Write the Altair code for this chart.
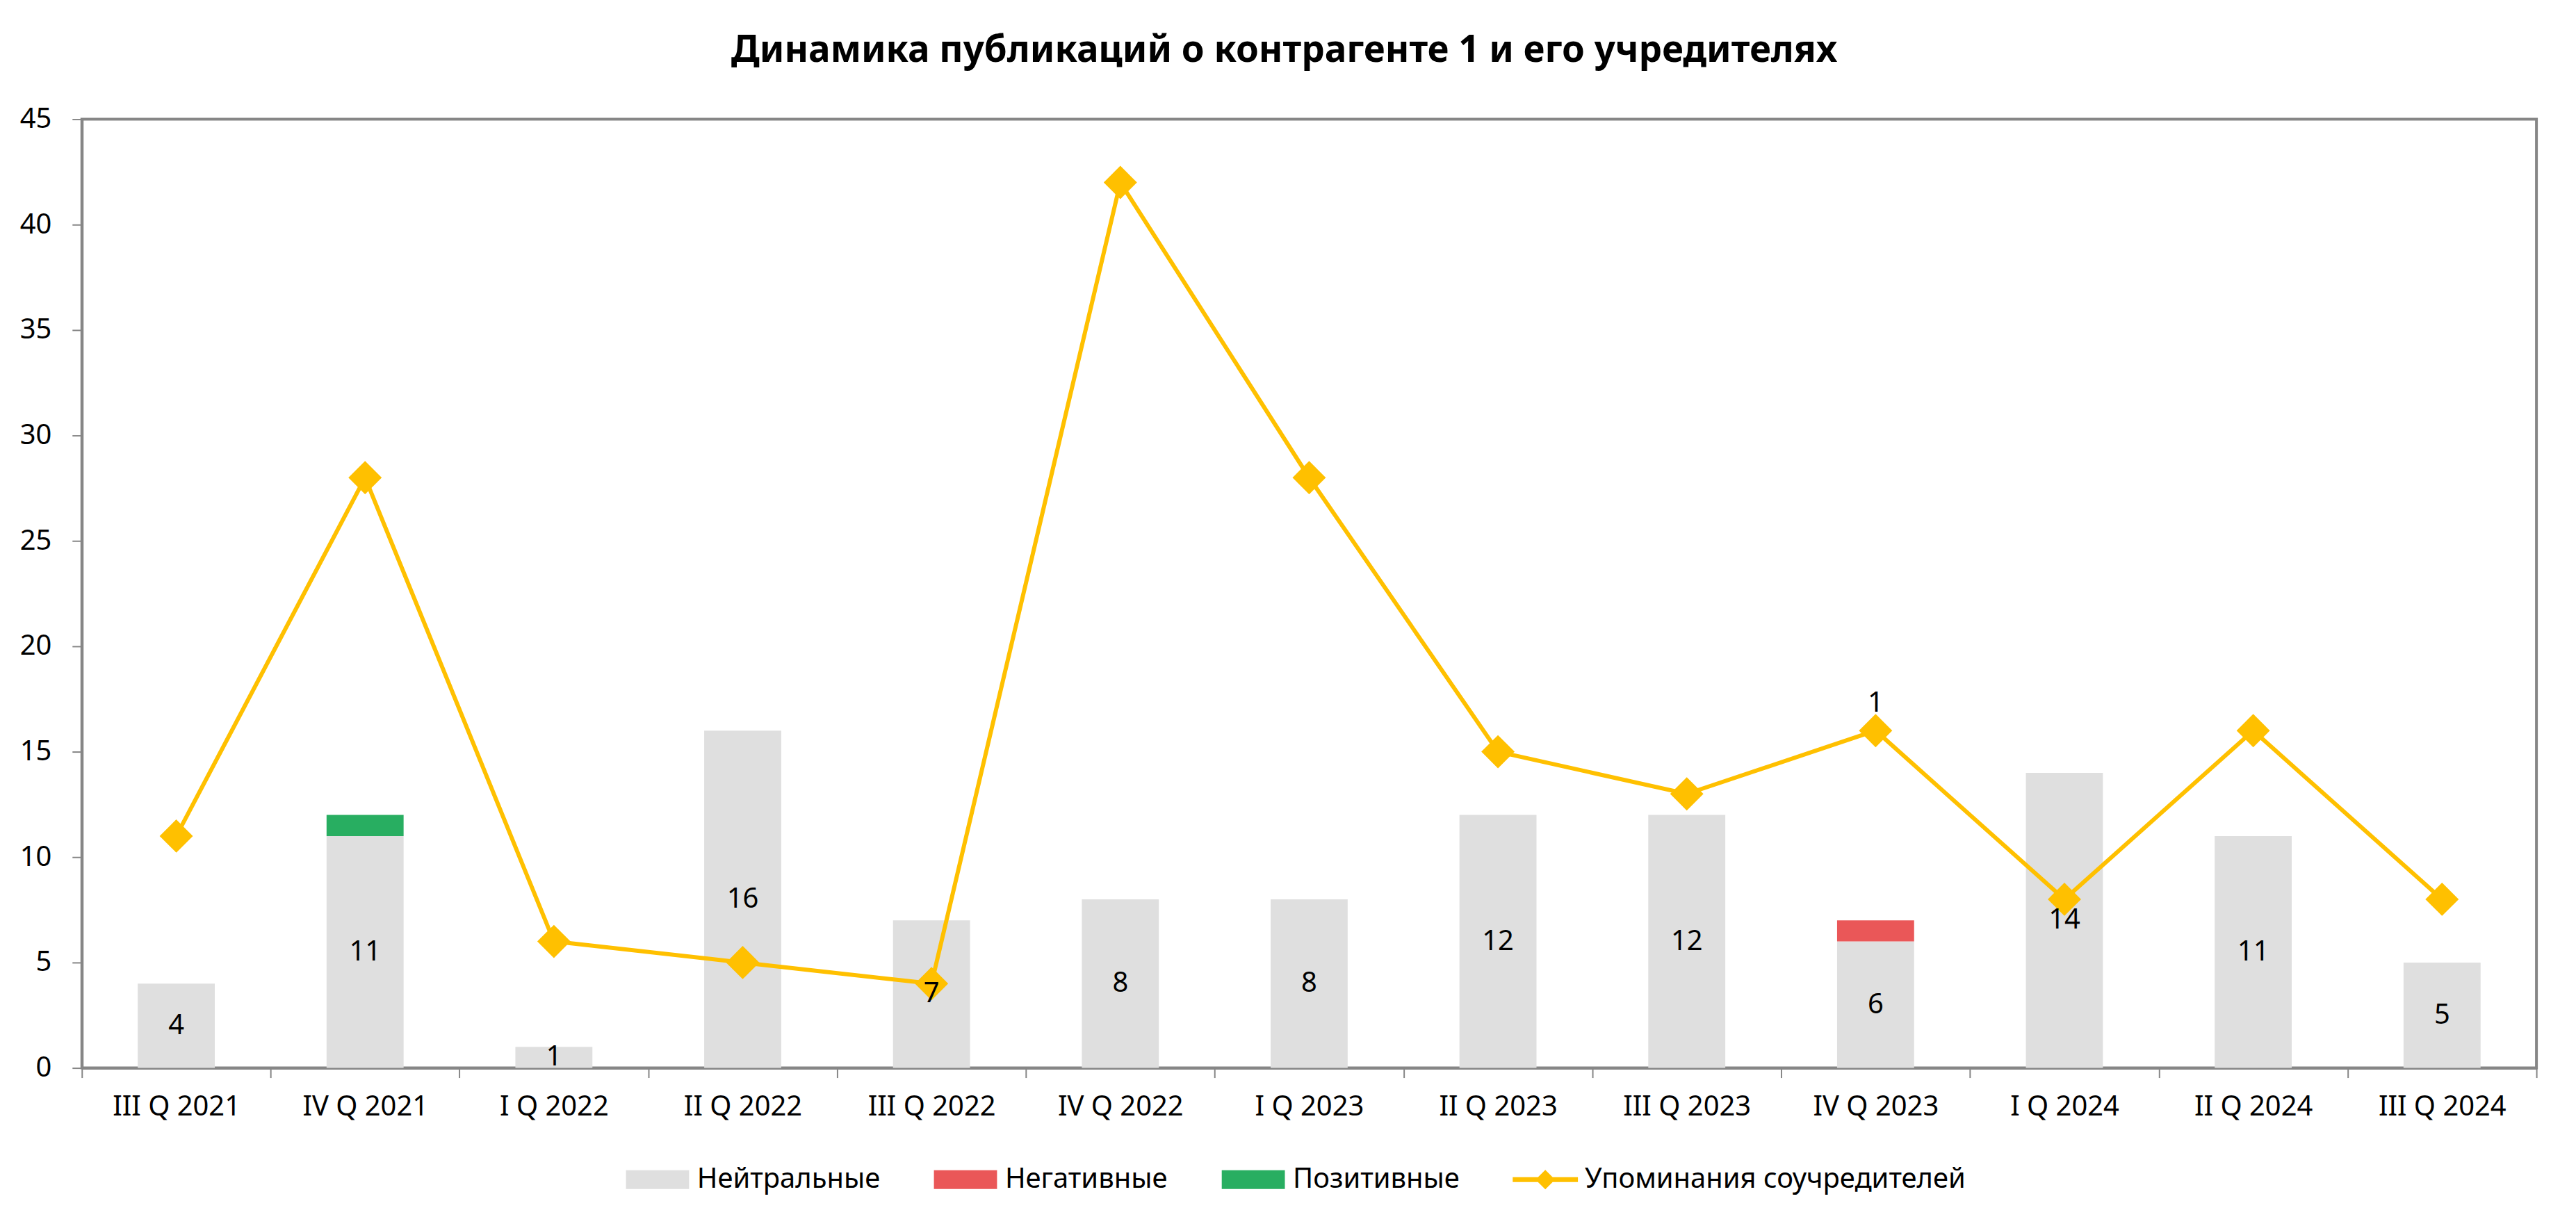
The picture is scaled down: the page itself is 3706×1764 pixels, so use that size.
import altair as alt
import pandas as pd

quarters = ["III Q 2021", "IV Q 2021", "I Q 2022", "II Q 2022", "III Q 2022", "IV Q 2022",
            "I Q 2023", "II Q 2023", "III Q 2023", "IV Q 2023", "I Q 2024", "II Q 2024", "III Q 2024"]
neutral = [4, 11, 1, 16, 7, 8, 8, 12, 12, 6, 14, 11, 5]
negative = [0, 0, 0, 0, 0, 0, 0, 0, 0, 1, 0, 0, 0]
positive = [0, 1, 0, 0, 0, 0, 0, 0, 0, 0, 0, 0, 0]
cofounders = [11, 28, 6, 5, 4, 42, 28, 15, 13, 16, 8, 16, 8]
series_names = ["Нейтральные", "Негативные", "Позитивные", "Упоминания соучредителей"]
series_colors = ["#DFDFDF", "#EA5758", "#28AE61", "#FFC000"]
title_text = "Динамика публикаций о контрагенте 1 и его учредителях"
y_ticks = [0, 5, 10, 15, 20, 25, 30, 35, 40, 45]

FONT = "Noto Sans"
AXIS_GREY = "#868686"

# legend symbol shapes (custom SVG paths in [-1, 1] units)
rect_path = "M-0.968,-0.287H0.968V0.287H-0.968Z"
line_path = "M-1,-0.075H1V0.075H-1Z M-0.3,0L0,-0.3L0.3,0L0,0.3Z"

rows = []
for i, q in enumerate(quarters):
    for k, (name, vals) in enumerate(zip(series_names[:3], [neutral, negative, positive])):
        if vals[i] > 0:
            rows.append({"quarter": q, "series": name, "value": vals[i], "order": k})
bars_df = pd.DataFrame(rows)

main_df = pd.DataFrame({
    "quarter": quarters,
    "neutral": neutral,
    "negative": negative,
    "positive": positive,
    "cofounders": cofounders,
})
legend_df = pd.DataFrame({"series": series_names})

x_enc = alt.X(
    "quarter:N",
    sort=quarters,
    scale=alt.Scale(type="band", domain=quarters, paddingInner=0, paddingOuter=0),
    axis=alt.Axis(title=None, labelAngle=0, tickBand="extent", labelPadding=22,
                  labelFontSize=40, labelLimit=1000, tickSize=14, grid=False,
                  domainColor=AXIS_GREY, domainWidth=4, tickColor=AXIS_GREY, tickWidth=2),
)
y_scale = alt.Scale(domain=[0, 45], nice=False, zero=True)
y_axis = alt.Axis(title=None, values=y_ticks, labelPadding=30, tickSize=14, labelFontSize=40,
                  grid=False, domainColor=AXIS_GREY, domainWidth=4, tickColor=AXIS_GREY, tickWidth=2)

color_scale = alt.Scale(domain=series_names, range=series_colors)
shape_scale = alt.Scale(domain=series_names, range=[rect_path, rect_path, rect_path, line_path])

legend = alt.Legend(
    title=None, orient="none", direction="horizontal",
    legendX=783, legendY=1482,
    symbolSize=8836, symbolOpacity=1, symbolStrokeWidth=0,
    labelFontSize=40, labelFont=FONT, labelColor="black", labelLimit=2000,
    labelOffset=10, columnPadding=76,
)

bars = alt.Chart(bars_df).mark_bar(width=alt.RelativeBandSize(0.408)).encode(
    x=x_enc,
    y=alt.Y("value:Q", stack="zero", scale=y_scale, axis=y_axis),
    color=alt.Color("series:N", scale=color_scale, legend=legend),
    order=alt.Order("order:Q"),
)

legend_layer = alt.Chart(legend_df).mark_point(filled=True, opacity=0).encode(
    color=alt.Color("series:N", scale=color_scale, legend=legend),
    shape=alt.Shape("series:N", scale=shape_scale, legend=legend),
)

line = alt.Chart(main_df).mark_line(color="#FFC000", strokeWidth=6).encode(
    x=alt.X("quarter:N", sort=quarters),
    y=alt.Y("cofounders:Q", scale=y_scale),
)
points = alt.Chart(main_df).mark_point(
    shape="diamond", filled=True, size=2304, color="#FFC000", opacity=1
).encode(
    x=alt.X("quarter:N", sort=quarters),
    y=alt.Y("cofounders:Q", scale=y_scale),
)

neutral_labels = alt.Chart(main_df).transform_calculate(
    mid="datum.neutral / 2"
).mark_text(fontSize=40, font=FONT, color="black", baseline="middle").encode(
    x=alt.X("quarter:N", sort=quarters),
    y=alt.Y("mid:Q", scale=y_scale),
    text=alt.Text("neutral:Q"),
)

neg_labels = alt.Chart(main_df).transform_filter("datum.negative > 0").mark_text(
    fontSize=40, font=FONT, color="black", baseline="alphabetic", dy=-27
).encode(
    x=alt.X("quarter:N", sort=quarters),
    y=alt.Y("cofounders:Q", scale=y_scale),
    text=alt.Text("negative:Q"),
)

chart = alt.layer(bars, legend_layer, line, points, neutral_labels, neg_labels).properties(
    width=3539,
    height=1368,
    padding={"left": 110, "top": 162, "right": 49, "bottom": 226},
    autosize=alt.AutoSizeParams(type="none"),
    background="white",
    title=alt.TitleParams(
        text=title_text, fontSize=53, font=FONT, fontWeight="bold", color="black",
        anchor="middle", offset=52, dx=-36,
    ),
).configure_axis(
    domainColor=AXIS_GREY, domainWidth=4, tickColor=AXIS_GREY, tickWidth=2,
    labelColor="black", labelFont=FONT, grid=False,
).configure_view(
    stroke=AXIS_GREY, strokeWidth=4,
)

chart.save("out.html", embed_options={"renderer": "svg", "actions": False})
